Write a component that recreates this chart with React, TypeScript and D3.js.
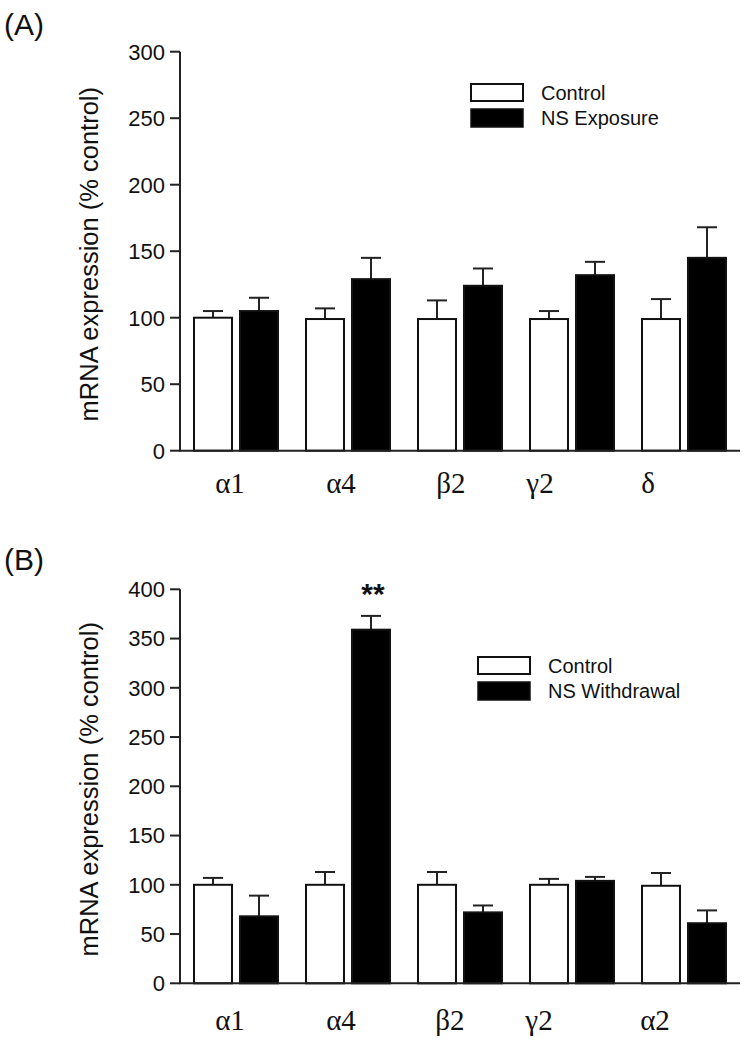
import React from "react";
import * as d3 from "d3";

const categoriesA = ["α1", "α4", "β2", "γ2", "δ"];
const controlA = [100, 99, 99, 99, 99];
const controlErrA = [5, 8, 14, 6, 15];
const exposureA = [105, 129, 124, 132, 145];
const exposureErrA = [10, 16, 13, 10, 23];

const categoriesB = ["α1", "α4", "β2", "γ2", "α2"];
const controlB = [100, 100, 100, 100, 99];
const controlErrB = [7, 13, 13, 6, 13];
const withdrawalB = [68, 359, 72, 104, 61];
const withdrawalErrB = [21, 14, 7, 4, 13];

const ticksA = [0, 50, 100, 150, 200, 250, 300];
const ticksB = [0, 50, 100, 150, 200, 250, 300, 350, 400];

// small manual label nudges, as in the original figure
const labelNudgeA = [-6, -7, -9, -32, -36];
const labelNudgeB = [-6, -7, -10, -33, -29];

const SANS = "'Liberation Sans', Arial, Helvetica, sans-serif";
const SERIF = "'Liberation Serif', 'Times New Roman', serif";

type PanelProps = {
  letter: string;
  letterY: number;
  top: number;
  bottom: number;
  maxY: number;
  ticks: number[];
  cats: string[];
  ctrl: number[];
  ctrlErr: number[];
  treat: number[];
  treatErr: number[];
  legendLabels: string[];
  legendX: number;
  legendY: number;
  labelY: number;
  nudge: number[];
  star?: { index: number; text: string };
};

function Panel(p: PanelProps) {
  const x0 = 180;
  const x1 = 740;
  const y = d3.scaleLinear().domain([0, p.maxY]).range([p.bottom, p.top]);
  const xg = d3
    .scaleBand<string>()
    .domain(p.cats)
    .range([x0, x1])
    .paddingInner(0.25)
    .paddingOuter(0.125);
  const xs = d3
    .scaleBand<string>()
    .domain(["c", "t"])
    .range([0, xg.bandwidth()])
    .paddingInner(0.174);
  const bw = xs.bandwidth();
  const capHalf = 10;

  const series = [
    { key: "c", vals: p.ctrl, errs: p.ctrlErr, fill: "#fff" },
    { key: "t", vals: p.treat, errs: p.treatErr, fill: "#000" },
  ];

  const yLabelX = 89;
  const yLabelY = (p.top + p.bottom) / 2 + 3;

  return (
    <g>
      <text x={4} y={p.letterY} fontFamily={SANS} fontSize={30} fill="#111">
        {p.letter}
      </text>
      {/* y axis */}
      <line x1={x0} x2={x0} y1={y(p.maxY)} y2={p.bottom} stroke="#222" strokeWidth={2} />
      {p.ticks.map((t) => (
        <g key={t}>
          <line x1={x0 - 10} x2={x0} y1={y(t)} y2={y(t)} stroke="#222" strokeWidth={2} />
          <text
            x={x0 - 15}
            y={y(t)}
            dy="0.36em"
            textAnchor="end"
            fontFamily={SANS}
            fontSize={22}
            fill="#111"
          >
            {t}
          </text>
        </g>
      ))}
      <text
        transform={`translate(${yLabelX},${yLabelY}) rotate(-90)`}
        textAnchor="middle"
        dy="0.36em"
        fontFamily={SANS}
        fontSize={25.5}
        fill="#111"
      >
        mRNA expression (% control)
      </text>
      {/* bars */}
      {p.cats.map((c, i) => (
        <g key={c + i}>
          {series.map((s) => {
            const bx = (xg(c) as number) + (xs(s.key) as number);
            const v = s.vals[i];
            const e = s.errs[i];
            const cx = bx + bw / 2;
            return (
              <g key={s.key}>
                <line x1={cx} x2={cx} y1={y(v)} y2={y(v + e)} stroke="#222" strokeWidth={2} />
                <line
                  x1={cx - capHalf}
                  x2={cx + capHalf}
                  y1={y(v + e)}
                  y2={y(v + e)}
                  stroke="#222"
                  strokeWidth={2}
                />
                <rect
                  x={bx}
                  y={y(v)}
                  width={bw}
                  height={p.bottom - y(v)}
                  fill={s.fill}
                  stroke="#111"
                  strokeWidth={2}
                />
              </g>
            );
          })}
          <text
            x={(xg(c) as number) + xg.bandwidth() / 2 + p.nudge[i]}
            y={p.labelY}
            textAnchor="middle"
            fontFamily={SERIF}
            fontSize={29}
            fill="#111"
          >
            {c}
          </text>
        </g>
      ))}
      {/* x axis */}
      <line x1={x0 - 1} x2={x1} y1={p.bottom} y2={p.bottom} stroke="#222" strokeWidth={2} />
      {p.star && (
        <text
          x={(xg(p.cats[p.star.index]) as number) + (xs("t") as number) + bw / 2 + 2}
          y={y(p.treat[p.star.index] + p.treatErr[p.star.index]) - 12}
          textAnchor="middle"
          fontFamily={SANS}
          fontWeight="bold"
          fontSize={30}
          fill="#111"
        >
          {p.star.text}
        </text>
      )}
      {/* legend */}
      <rect x={p.legendX} y={p.legendY} width={52} height={17} fill="#fff" stroke="#111" strokeWidth={2} />
      <rect x={p.legendX} y={p.legendY + 25} width={52} height={18} fill="#000" stroke="#111" strokeWidth={1.5} />
      <text x={p.legendX + 70} y={p.legendY + 16} fontFamily={SANS} fontSize={20} fill="#111">
        {p.legendLabels[0]}
      </text>
      <text x={p.legendX + 70} y={p.legendY + 41} fontFamily={SANS} fontSize={20} fill="#111">
        {p.legendLabels[1]}
      </text>
    </g>
  );
}

export default function App() {
  return (
    <svg
      width={745}
      height={1050}
      style={{ position: "absolute", left: 0, top: 0, background: "#fff" }}
    >
      <rect width={745} height={1050} fill="#fff" />
      <Panel
        letter="(A)"
        letterY={35}
        top={51.7}
        bottom={450.7}
        maxY={300}
        ticks={ticksA}
        cats={categoriesA}
        ctrl={controlA}
        ctrlErr={controlErrA}
        treat={exposureA}
        treatErr={exposureErrA}
        legendLabels={["Control", "NS Exposure"]}
        legendX={471}
        legendY={84}
        labelY={493}
        nudge={labelNudgeA}
      />
      <Panel
        letter="(B)"
        letterY={570}
        top={589.3}
        bottom={983.3}
        maxY={400}
        ticks={ticksB}
        cats={categoriesB}
        ctrl={controlB}
        ctrlErr={controlErrB}
        treat={withdrawalB}
        treatErr={withdrawalErrB}
        legendLabels={["Control", "NS Withdrawal"]}
        legendX={478}
        legendY={657}
        labelY={1030}
        nudge={labelNudgeB}
        star={{ index: 1, text: "**" }}
      />
    </svg>
  );
}
